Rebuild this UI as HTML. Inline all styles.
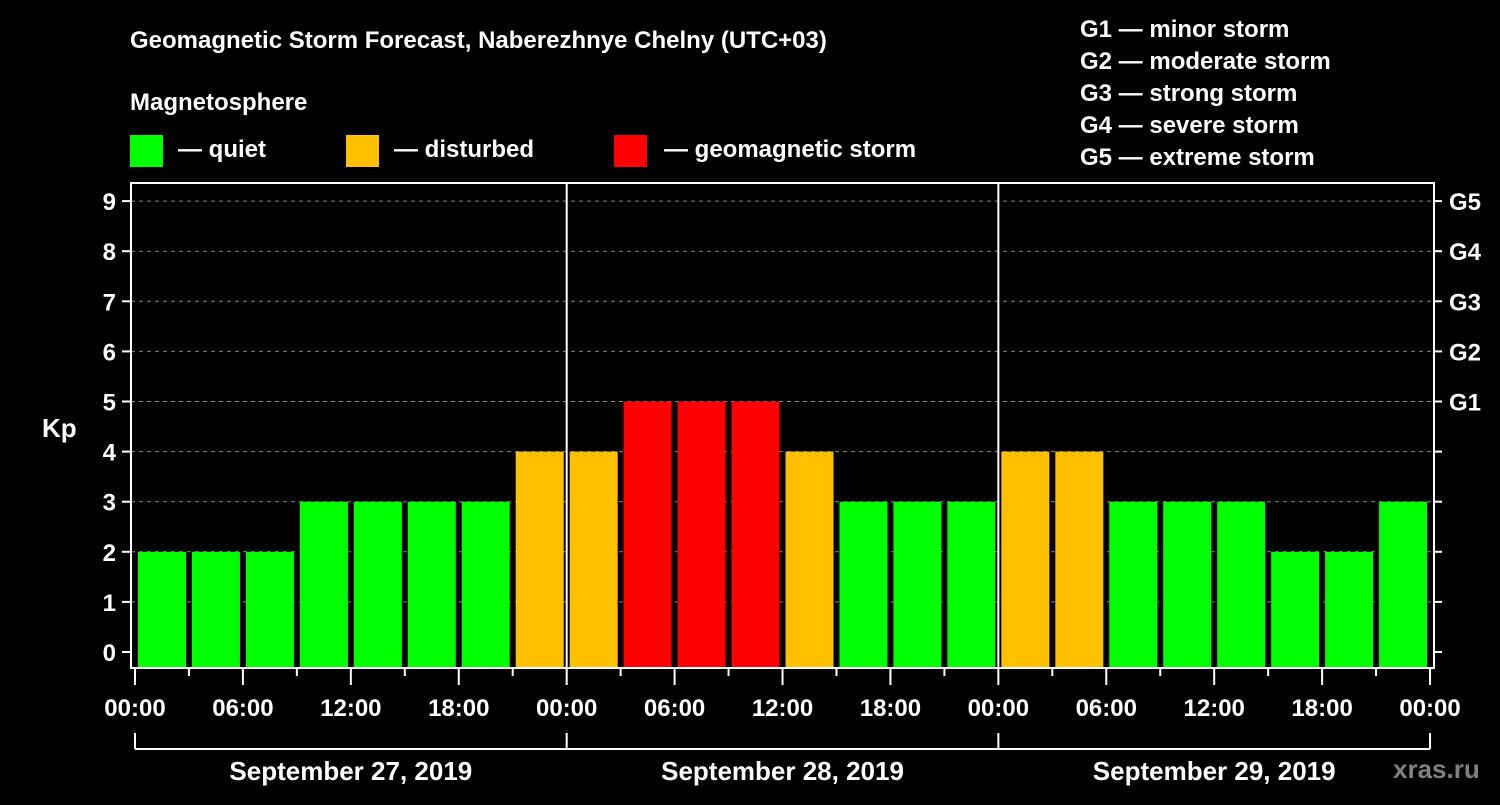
<!DOCTYPE html>
<html><head><meta charset="utf-8"><style>
body{margin:0;background:#000;width:1500px;height:800px;overflow:hidden}
svg text{font-family:"Liberation Sans",sans-serif;font-weight:bold;fill:#fff}
</style></head><body>
<svg id="c" width="1500" height="800">
<text x="130" y="48" font-size="24">Geomagnetic Storm Forecast, Naberezhnye Chelny (UTC+03)</text>
<text x="130" y="110" font-size="24">Magnetosphere</text>
<rect x="130" y="135" width="33" height="32" fill="#00ff00"/>
<text x="178" y="157" font-size="24">— quiet</text>
<rect x="346" y="135" width="33" height="32" fill="#ffc000"/>
<text x="394" y="157" font-size="24">— disturbed</text>
<rect x="614" y="135" width="33" height="32" fill="#ff0000"/>
<text x="664" y="157" font-size="24">— geomagnetic storm</text>
<g font-size="24">
<text x="1080" y="37">G1 — minor storm</text>
<text x="1080" y="69">G2 — moderate storm</text>
<text x="1080" y="101">G3 — strong storm</text>
<text x="1080" y="133">G4 — severe storm</text>
<text x="1080" y="165">G5 — extreme storm</text>
</g>
<text x="42" y="437" font-size="26">Kp</text>
<text x="1393" y="778" font-size="26" style="fill:#808080">xras.ru</text>
<g id="plot"></g>
</svg>
<script>
const values=[2,2,2,3,3,3,3,4, 4,5,5,5,4,3,3,3, 4,4,3,3,3,2,2,3];
const yTicks=[0,1,2,3,4,5,6,7,8,9];
const gLabels=["G1","G2","G3","G4","G5"];
const gLevels=[5,6,7,8,9];
const xLabels=["00:00","06:00","12:00","18:00","00:00","06:00","12:00","18:00","00:00","06:00","12:00","18:00","00:00"];
const days=["September 27, 2019","September 28, 2019","September 29, 2019"];
const ns="http://www.w3.org/2000/svg";
const g=document.getElementById('plot');
const X0=135,SLOT=53.96,Y0=652,YU=50.1,TOP=183,BOT=668,L=131,R=1434;
const x=i=>X0+i*SLOT;
const y=v=>Y0-v*YU;
function mk(t,a,p){const e=document.createElementNS(ns,t);for(const k in a)e.setAttribute(k,a[k]);(p||g).appendChild(e);return e;}
function col(v){return v>=5?'#ff0000':v>=4?'#ffc000':'#00ff00';}
yTicks.forEach(v=>{
 if(v>0){const l=mk('line',{x1:L,x2:R,y1:y(v),y2:y(v),stroke:'#888','stroke-dasharray':'4 4','stroke-width':1});
 
 }
 mk('line',{x1:122,x2:L,y1:y(v),y2:y(v),stroke:'#fff','stroke-width':2});
 mk('line',{x1:R,x2:1442,y1:y(v),y2:y(v),stroke:'#fff','stroke-width':2});
 const t=mk('text',{x:116,y:y(v)+9,'font-size':24,'text-anchor':'end'});t.textContent=v;
 
 
});
gLabels.forEach((s,i)=>{const t=mk('text',{x:1449,y:y(gLevels[i])+9,'font-size':24});t.textContent=s;
 
 });
values.forEach((v,i)=>{const r=mk('rect',{x:x(i)+3,y:y(v),width:48,height:BOT-y(v),fill:col(v)});
 
 });
for(let i=0;i<=24;i++){const major=i%2==0;mk('line',{x1:x(i),x2:x(i),y1:BOT,y2:major?685:676,stroke:'#fff','stroke-width':2});}
xLabels.forEach((s,i)=>{const t=mk('text',{x:x(i*2),y:716,'font-size':24,'text-anchor':'middle'});t.textContent=s;
 
 });
mk('line',{x1:x(8),x2:x(8),y1:TOP,y2:BOT,stroke:'#fff','stroke-width':2});
mk('line',{x1:x(16),x2:x(16),y1:TOP,y2:BOT,stroke:'#fff','stroke-width':2});
const f=mk('rect',{x:L,y:TOP,width:R-L,height:BOT-TOP,fill:'none',stroke:'#fff','stroke-width':2});


mk('line',{x1:x(0),x2:x(24),y1:749,y2:749,stroke:'#fff','stroke-width':2});
[0,8,16,24].forEach(i=>mk('line',{x1:x(i),x2:x(i),y1:733,y2:749,stroke:'#fff','stroke-width':2}));
days.forEach((s,i)=>{const t=mk('text',{x:x(i*8+4),y:780,'font-size':26,'text-anchor':'middle'});t.textContent=s;
 
 });
</script>
</body></html>
